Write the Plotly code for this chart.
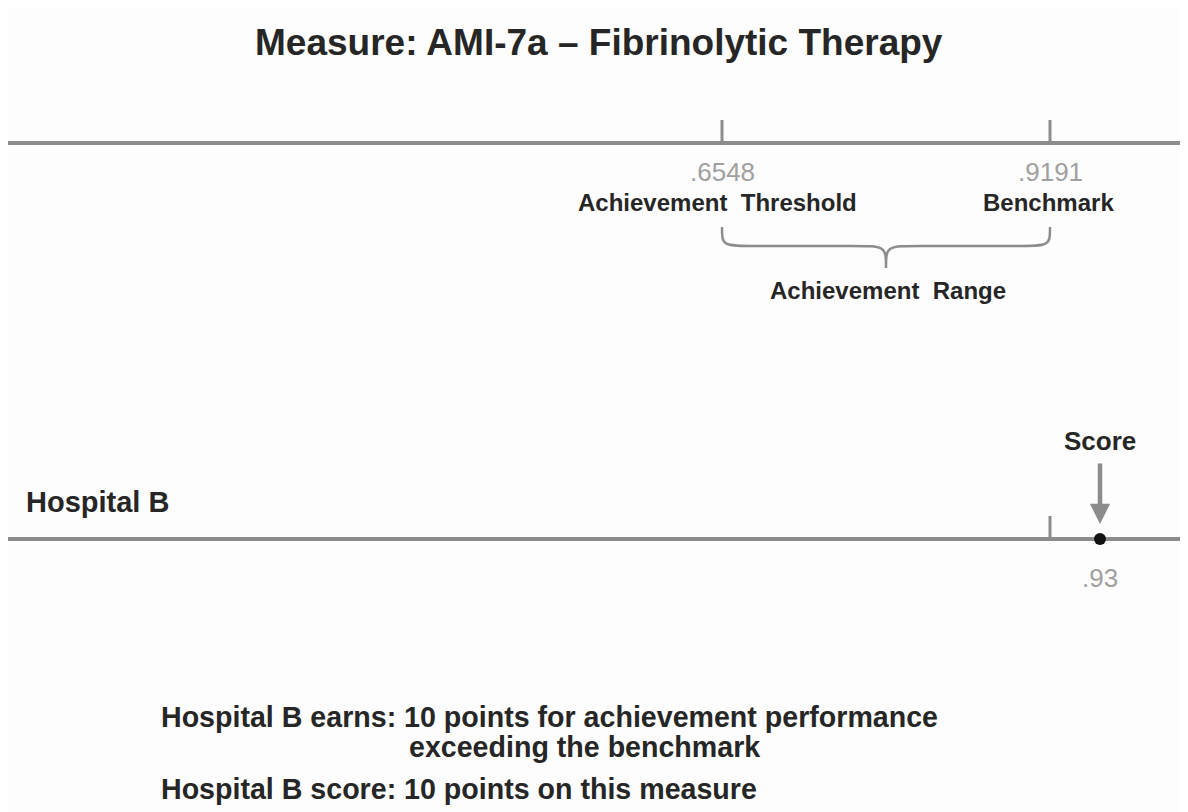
import plotly.graph_objects as go

# --- data -----------------------------------------------------------------
measure_title = "Measure: AMI-7a \u2013 Fibrinolytic Therapy"
hospital = "Hospital B"
threshold = 0.6548
benchmark = 0.9191
hospital_score = 0.93
points_earned = 10
earn_reason = ["for achievement performance", "exceeding the benchmark"]

LINE = "#8c8c8c"
VALUE = "#a0a0a0"
INK = "#262626"
FONT = "Liberation Sans, Arial, sans-serif"


def fmt(v, nd):
    return f"{v:.{nd}f}".lstrip("0")


# page body has an 8px margin, so the figure is drawn inside 8..1188
W, H = 1188, 812
OFF = 8
FW, FH = W - OFF, H - OFF


def px(x):
    """page x pixel -> paper fraction"""
    return (x - OFF) / FW


# each number line gets its own x scale (the drawing is schematic, not to scale)
k1 = (1050 - 722) / (benchmark - threshold)
x1_range = [threshold - (722 - OFF) / k1, threshold + (W - 722) / k1]
k2 = (1100 - 1050) / (hospital_score - benchmark)
x2_range = [benchmark - (1050 - OFF) / k2, benchmark + (W - 1050) / k2]

fig = go.Figure()

# top line: ticks for threshold / benchmark
for v in [threshold, benchmark]:
    fig.add_trace(go.Scatter(x=[v, v], y=[120, 143], mode="lines",
                             line=dict(color=LINE, width=3), xaxis="x", yaxis="y",
                             hoverinfo="skip", showlegend=False))

# bottom line: benchmark tick and hospital score
fig.add_trace(go.Scatter(x=[benchmark, benchmark], y=[516, 539], mode="lines",
                         line=dict(color=LINE, width=3), xaxis="x2", yaxis="y",
                         hoverinfo="skip", showlegend=False))
fig.add_trace(go.Scatter(x=[hospital_score], y=[539], mode="markers",
                         marker=dict(color="#111111", size=12), xaxis="x2", yaxis="y",
                         hoverinfo="skip", showlegend=False))

# the two number lines
for y in [143, 539]:
    fig.add_shape(type="line", xref="paper", yref="y", x0=0, x1=1, y0=y, y1=y,
                  line=dict(color=LINE, width=4), layer="below")

# curly brace for the achievement range
a, b = threshold, benchmark
m = (a + b) / 2
d = 36 / k1
yt, yh, yp = 227, 246, 268
brace = (f"M {a},{yt} C {a},{yh} {a},{yh} {a + d},{yh} L {m - d},{yh} "
         f"C {m},{yh} {m},{yh} {m},{yp} C {m},{yh} {m},{yh} {m + d},{yh} "
         f"L {b - d},{yh} C {b},{yh} {b},{yh} {b},{yt}")
fig.add_shape(type="path", xref="x", yref="y", path=brace,
              line=dict(color=LINE, width=2.5))

ann = []


def label(text, x, y, size, color=INK, bold=True, xref="x", xanchor="center"):
    t = f"<b>{text}</b>" if bold else text
    ann.append(dict(text=t, x=x, y=y, xref=xref, yref="y", showarrow=False,
                    xanchor=xanchor, yanchor="middle",
                    font=dict(family=FONT, size=size, color=color)))


label(measure_title, px(599), 42, 37, xref="paper")
label(fmt(threshold, 4), threshold, 172, 26, VALUE, bold=False)
label(fmt(benchmark, 4), benchmark, 172, 26, VALUE, bold=False)
label("Achievement&nbsp; Threshold", threshold - 5 / k1, 202, 24)
label("Benchmark", benchmark - 2 / k1, 202, 24)
label("Achievement&nbsp; Range", m + 2 / k1, 290, 24)
label(hospital, px(24), 502, 29, xref="paper", xanchor="left")
label("Score", hospital_score, 441, 26, xref="x2")
label(fmt(hospital_score, 2), hospital_score, 578, 26, VALUE, bold=False, xref="x2")
label(f"{hospital} earns: {points_earned} points {earn_reason[0]}", px(159), 717, 28.6,
      xref="paper", xanchor="left")
label(earn_reason[1], px(407), 747, 28.6, xref="paper", xanchor="left")
label(f"{hospital} score: {points_earned} points on this measure", px(159), 789, 28.6,
      xref="paper", xanchor="left")

# arrow pointing at the score
ann.append(dict(x=hospital_score, y=524, xref="x2", yref="y", ax=0, ay=-62,
                text="", showarrow=True, arrowhead=2, arrowsize=0.9,
                arrowwidth=4.5, arrowcolor=LINE))

fig.update_layout(
    width=FW, height=FH,
    margin=dict(l=0, r=0, t=0, b=0),
    paper_bgcolor="#fdfdfd", plot_bgcolor="#fdfdfd",
    xaxis=dict(range=x1_range, visible=False, fixedrange=True),
    xaxis2=dict(range=x2_range, visible=False, overlaying="x", fixedrange=True),
    yaxis=dict(range=[H, OFF], visible=False, fixedrange=True),
    annotations=ann,
    showlegend=False,
)

fig.write_html("out.html")
